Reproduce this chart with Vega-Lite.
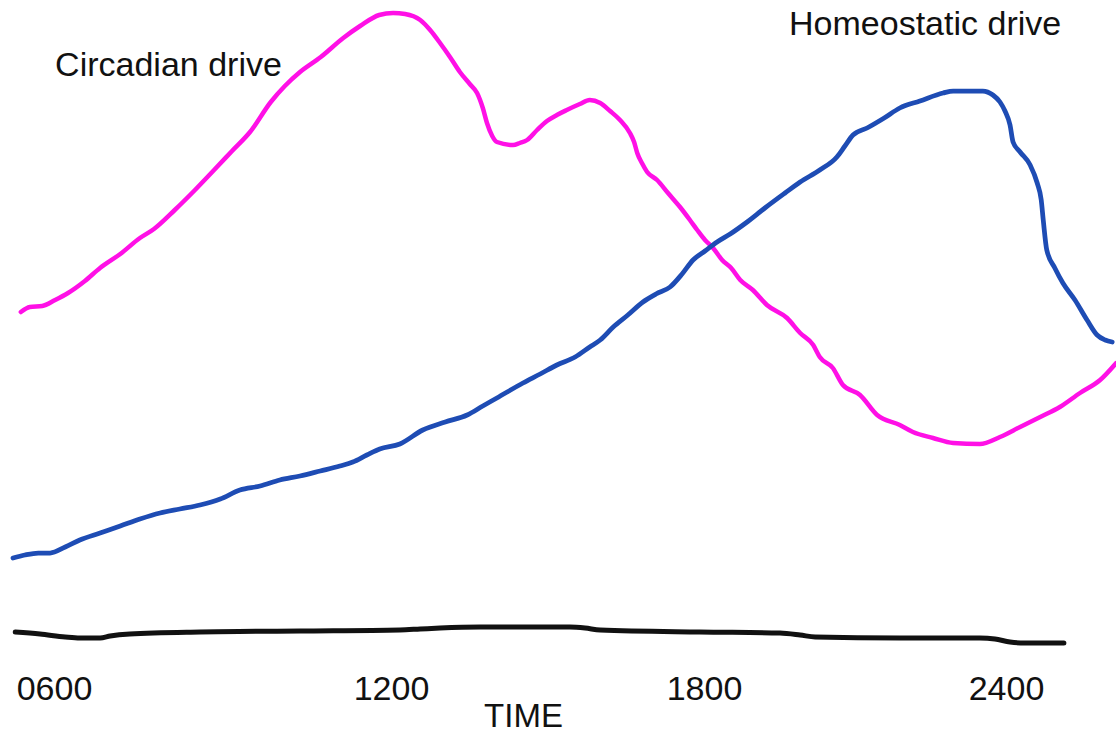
{
  "$schema": "https://vega.github.io/schema/vega-lite/v6.json",
  "width": 1116,
  "height": 660,
  "autosize": {"type": "none"},
  "padding": {"left": 0, "top": 0, "right": 0, "bottom": 73},
  "background": "white",
  "config": {"view": {"stroke": null}, "font": "Liberation Sans"},
  "datasets": {
    "curves": [
      {"series": "Circadian", "h": 5.41, "v": 348}, {"series": "Circadian", "h": 5.57, "v": 353}, {"series": "Circadian", "h": 5.79, "v": 354},
      {"series": "Circadian", "h": 6.02, "v": 360}, {"series": "Circadian", "h": 6.25, "v": 367}, {"series": "Circadian", "h": 6.55, "v": 379},
      {"series": "Circadian", "h": 6.82, "v": 392}, {"series": "Circadian", "h": 7.18, "v": 406}, {"series": "Circadian", "h": 7.53, "v": 422},
      {"series": "Circadian", "h": 7.78, "v": 431}, {"series": "Circadian", "h": 8.15, "v": 450}, {"series": "Circadian", "h": 8.51, "v": 470},
      {"series": "Circadian", "h": 8.85, "v": 490}, {"series": "Circadian", "h": 9.17, "v": 509}, {"series": "Circadian", "h": 9.49, "v": 528},
      {"series": "Circadian", "h": 9.86, "v": 558}, {"series": "Circadian", "h": 10.11, "v": 574}, {"series": "Circadian", "h": 10.38, "v": 588},
      {"series": "Circadian", "h": 10.75, "v": 603}, {"series": "Circadian", "h": 11.15, "v": 622}, {"series": "Circadian", "h": 11.45, "v": 634},
      {"series": "Circadian", "h": 11.79, "v": 645}, {"series": "Circadian", "h": 12.04, "v": 647}, {"series": "Circadian", "h": 12.27, "v": 646},
      {"series": "Circadian", "h": 12.56, "v": 640}, {"series": "Circadian", "h": 12.75, "v": 630}, {"series": "Circadian", "h": 12.94, "v": 617},
      {"series": "Circadian", "h": 13.13, "v": 603}, {"series": "Circadian", "h": 13.32, "v": 588}, {"series": "Circadian", "h": 13.51, "v": 576},
      {"series": "Circadian", "h": 13.65, "v": 567}, {"series": "Circadian", "h": 13.76, "v": 552}, {"series": "Circadian", "h": 13.84, "v": 537},
      {"series": "Circadian", "h": 13.94, "v": 524}, {"series": "Circadian", "h": 14.03, "v": 518}, {"series": "Circadian", "h": 14.34, "v": 515},
      {"series": "Circadian", "h": 14.47, "v": 517}, {"series": "Circadian", "h": 14.61, "v": 520}, {"series": "Circadian", "h": 14.80, "v": 530},
      {"series": "Circadian", "h": 14.99, "v": 539}, {"series": "Circadian", "h": 15.18, "v": 545}, {"series": "Circadian", "h": 15.37, "v": 550},
      {"series": "Circadian", "h": 15.62, "v": 556}, {"series": "Circadian", "h": 15.81, "v": 560}, {"series": "Circadian", "h": 16.01, "v": 557},
      {"series": "Circadian", "h": 16.20, "v": 549}, {"series": "Circadian", "h": 16.39, "v": 540}, {"series": "Circadian", "h": 16.58, "v": 527},
      {"series": "Circadian", "h": 16.66, "v": 518}, {"series": "Circadian", "h": 16.72, "v": 507}, {"series": "Circadian", "h": 16.81, "v": 497},
      {"series": "Circadian", "h": 16.91, "v": 488}, {"series": "Circadian", "h": 17.10, "v": 480}, {"series": "Circadian", "h": 17.31, "v": 467},
      {"series": "Circadian", "h": 17.54, "v": 453}, {"series": "Circadian", "h": 17.73, "v": 440}, {"series": "Circadian", "h": 17.87, "v": 430},
      {"series": "Circadian", "h": 18.02, "v": 420}, {"series": "Circadian", "h": 18.18, "v": 412}, {"series": "Circadian", "h": 18.36, "v": 400},
      {"series": "Circadian", "h": 18.54, "v": 392}, {"series": "Circadian", "h": 18.72, "v": 380}, {"series": "Circadian", "h": 18.97, "v": 370},
      {"series": "Circadian", "h": 19.25, "v": 355}, {"series": "Circadian", "h": 19.65, "v": 342}, {"series": "Circadian", "h": 19.91, "v": 327},
      {"series": "Circadian", "h": 20.17, "v": 315}, {"series": "Circadian", "h": 20.30, "v": 303}, {"series": "Circadian", "h": 20.56, "v": 292},
      {"series": "Circadian", "h": 20.76, "v": 275}, {"series": "Circadian", "h": 21.10, "v": 265}, {"series": "Circadian", "h": 21.44, "v": 245},
      {"series": "Circadian", "h": 21.89, "v": 235}, {"series": "Circadian", "h": 22.15, "v": 228}, {"series": "Circadian", "h": 22.55, "v": 222},
      {"series": "Circadian", "h": 22.95, "v": 217}, {"series": "Circadian", "h": 23.48, "v": 216}, {"series": "Circadian", "h": 23.88, "v": 223},
      {"series": "Circadian", "h": 24.28, "v": 233}, {"series": "Circadian", "h": 24.68, "v": 243}, {"series": "Circadian", "h": 25.07, "v": 253},
      {"series": "Circadian", "h": 25.47, "v": 267}, {"series": "Circadian", "h": 25.87, "v": 280}, {"series": "Circadian", "h": 26.19, "v": 297},

      {"series": "Homeostatic", "h": 5.27, "v": 102}, {"series": "Homeostatic", "h": 5.48, "v": 105}, {"series": "Homeostatic", "h": 5.72, "v": 107},
      {"series": "Homeostatic", "h": 5.93, "v": 107}, {"series": "Homeostatic", "h": 6.20, "v": 113}, {"series": "Homeostatic", "h": 6.46, "v": 120},
      {"series": "Homeostatic", "h": 6.82, "v": 127}, {"series": "Homeostatic", "h": 7.18, "v": 134}, {"series": "Homeostatic", "h": 7.53, "v": 141},
      {"series": "Homeostatic", "h": 7.89, "v": 147}, {"series": "Homeostatic", "h": 8.24, "v": 151}, {"series": "Homeostatic", "h": 8.60, "v": 155},
      {"series": "Homeostatic", "h": 8.96, "v": 161}, {"series": "Homeostatic", "h": 9.31, "v": 170}, {"series": "Homeostatic", "h": 9.67, "v": 174},
      {"series": "Homeostatic", "h": 10.02, "v": 180}, {"series": "Homeostatic", "h": 10.38, "v": 184}, {"series": "Homeostatic", "h": 10.74, "v": 189},
      {"series": "Homeostatic", "h": 11.09, "v": 194}, {"series": "Homeostatic", "h": 11.32, "v": 198}, {"series": "Homeostatic", "h": 11.57, "v": 205},
      {"series": "Homeostatic", "h": 11.80, "v": 211}, {"series": "Homeostatic", "h": 12.17, "v": 216}, {"series": "Homeostatic", "h": 12.61, "v": 230},
      {"series": "Homeostatic", "h": 13.04, "v": 238}, {"series": "Homeostatic", "h": 13.46, "v": 245}, {"series": "Homeostatic", "h": 13.76, "v": 254},
      {"series": "Homeostatic", "h": 14.03, "v": 262}, {"series": "Homeostatic", "h": 14.53, "v": 277}, {"series": "Homeostatic", "h": 14.86, "v": 286},
      {"series": "Homeostatic", "h": 15.18, "v": 295}, {"series": "Homeostatic", "h": 15.53, "v": 303}, {"series": "Homeostatic", "h": 15.81, "v": 313},
      {"series": "Homeostatic", "h": 16.01, "v": 320}, {"series": "Homeostatic", "h": 16.26, "v": 333}, {"series": "Homeostatic", "h": 16.54, "v": 345},
      {"series": "Homeostatic", "h": 16.83, "v": 358}, {"series": "Homeostatic", "h": 17.08, "v": 366}, {"series": "Homeostatic", "h": 17.35, "v": 373},
      {"series": "Homeostatic", "h": 17.58, "v": 386}, {"series": "Homeostatic", "h": 17.79, "v": 400}, {"series": "Homeostatic", "h": 18.02, "v": 409},
      {"series": "Homeostatic", "h": 18.26, "v": 418}, {"series": "Homeostatic", "h": 18.52, "v": 426}, {"series": "Homeostatic", "h": 18.83, "v": 437},
      {"series": "Homeostatic", "h": 19.21, "v": 452}, {"series": "Homeostatic", "h": 19.61, "v": 467}, {"series": "Homeostatic", "h": 19.91, "v": 478},
      {"series": "Homeostatic", "h": 20.30, "v": 490}, {"series": "Homeostatic", "h": 20.64, "v": 503}, {"series": "Homeostatic", "h": 20.80, "v": 514},
      {"series": "Homeostatic", "h": 20.96, "v": 525}, {"series": "Homeostatic", "h": 21.24, "v": 532}, {"series": "Homeostatic", "h": 21.58, "v": 542},
      {"series": "Homeostatic", "h": 21.89, "v": 552}, {"series": "Homeostatic", "h": 22.29, "v": 559}, {"series": "Homeostatic", "h": 22.75, "v": 567},
      {"series": "Homeostatic", "h": 22.95, "v": 569}, {"series": "Homeostatic", "h": 23.28, "v": 569}, {"series": "Homeostatic", "h": 23.54, "v": 569},
      {"series": "Homeostatic", "h": 23.74, "v": 565}, {"series": "Homeostatic", "h": 23.88, "v": 558}, {"series": "Homeostatic", "h": 23.98, "v": 549},
      {"series": "Homeostatic", "h": 24.08, "v": 535}, {"series": "Homeostatic", "h": 24.14, "v": 518}, {"series": "Homeostatic", "h": 24.28, "v": 508},
      {"series": "Homeostatic", "h": 24.48, "v": 495}, {"series": "Homeostatic", "h": 24.62, "v": 477}, {"series": "Homeostatic", "h": 24.70, "v": 460},
      {"series": "Homeostatic", "h": 24.74, "v": 440}, {"series": "Homeostatic", "h": 24.81, "v": 410}, {"series": "Homeostatic", "h": 24.97, "v": 392},
      {"series": "Homeostatic", "h": 25.13, "v": 377}, {"series": "Homeostatic", "h": 25.37, "v": 360}, {"series": "Homeostatic", "h": 25.61, "v": 340},
      {"series": "Homeostatic", "h": 25.81, "v": 325}, {"series": "Homeostatic", "h": 25.97, "v": 320}, {"series": "Homeostatic", "h": 26.11, "v": 318},

      {"series": "Baseline", "h": 5.31, "v": 28}, {"series": "Baseline", "h": 5.75, "v": 26}, {"series": "Baseline", "h": 6.20, "v": 23},
      {"series": "Baseline", "h": 6.46, "v": 22}, {"series": "Baseline", "h": 6.82, "v": 22}, {"series": "Baseline", "h": 7.00, "v": 24},
      {"series": "Baseline", "h": 7.35, "v": 26}, {"series": "Baseline", "h": 8.60, "v": 28}, {"series": "Baseline", "h": 10.38, "v": 29},
      {"series": "Baseline", "h": 12.17, "v": 30}, {"series": "Baseline", "h": 12.56, "v": 31}, {"series": "Baseline", "h": 12.94, "v": 32},
      {"series": "Baseline", "h": 13.71, "v": 33}, {"series": "Baseline", "h": 14.47, "v": 33}, {"series": "Baseline", "h": 15.43, "v": 33},
      {"series": "Baseline", "h": 15.72, "v": 32}, {"series": "Baseline", "h": 16.01, "v": 30}, {"series": "Baseline", "h": 17.92, "v": 28},
      {"series": "Baseline", "h": 19.51, "v": 27}, {"series": "Baseline", "h": 19.91, "v": 25}, {"series": "Baseline", "h": 20.21, "v": 23},
      {"series": "Baseline", "h": 21.89, "v": 22}, {"series": "Baseline", "h": 23.48, "v": 22}, {"series": "Baseline", "h": 23.78, "v": 21},
      {"series": "Baseline", "h": 24.08, "v": 18}, {"series": "Baseline", "h": 24.38, "v": 17}, {"series": "Baseline", "h": 25.15, "v": 17}
    ],
    "labels": [
      {"label": "Circadian drive", "h": 6.02, "v": 584},
      {"label": "Homeostatic drive", "h": 19.69, "v": 625}
    ]
  },
  "layer": [
    {
      "data": {"name": "curves"},
      "mark": {"type": "line", "interpolate": "monotone", "strokeCap": "round", "strokeJoin": "round"},
      "encoding": {
        "x": {
          "field": "h", "type": "quantitative",
          "scale": {"domain": [6, 12, 18, 24], "range": [54, 391, 704, 1006], "nice": false, "zero": false},
          "axis": {
            "values": [6, 12, 18, 24],
            "labelExpr": "datum.value == 6 ? '0600' : datum.value + '00'",
            "domain": false, "ticks": false, "tickSize": 0, "grid": false,
            "labelPadding": 12, "labelFontSize": 34, "labelFont": "Liberation Sans", "labelColor": "#111111",
            "labelFlush": false, "labelOverlap": false,
            "title": "TIME", "titleFontSize": 33, "titleFont": "Liberation Sans", "titleFontWeight": "normal",
            "titleColor": "#111111", "titleX": 523, "titleY": 73, "titleBaseline": "bottom", "titleAlign": "center"
          }
        },
        "y": {"field": "v", "type": "quantitative", "scale": {"domain": [0, 660], "nice": false, "zero": false}, "axis": null},
        "color": {
          "field": "series", "type": "nominal",
          "scale": {"domain": ["Circadian", "Homeostatic", "Baseline"], "range": ["#ff10e6", "#1e4cb4", "#111111"]},
          "legend": null
        },
        "strokeWidth": {
          "field": "series", "type": "nominal",
          "scale": {"domain": ["Circadian", "Homeostatic", "Baseline"], "range": [4.5, 5, 4.5]},
          "legend": null
        },
        "order": {"field": "h", "type": "quantitative"}
      }
    },
    {
      "data": {"name": "labels"},
      "mark": {"type": "text", "align": "left", "baseline": "alphabetic", "fontSize": 34, "font": "Liberation Sans", "color": "#111111"},
      "encoding": {
        "x": {"field": "h", "type": "quantitative"},
        "y": {"field": "v", "type": "quantitative"},
        "text": {"field": "label", "type": "nominal"}
      }
    }
  ]
}
